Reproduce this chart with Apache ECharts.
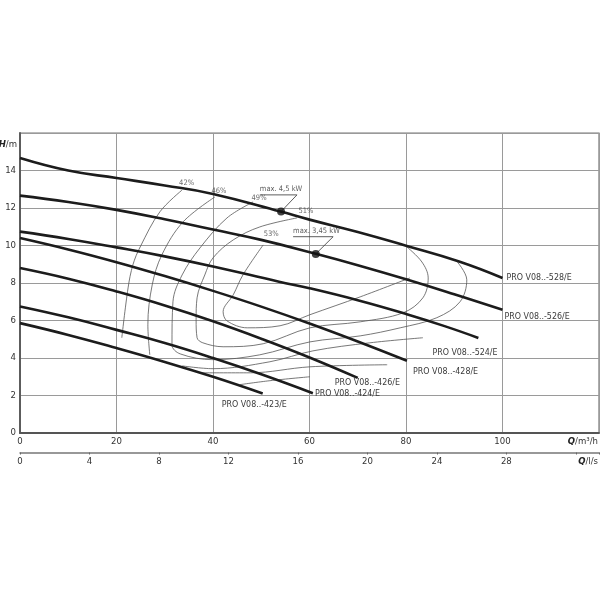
<!DOCTYPE html>
<html>
<head>
<meta charset="utf-8">
<script src="https://cdn.jsdelivr.net/npm/echarts@6/dist/echarts.min.js"></script>
<style>html,body{margin:0;padding:0;background:#fff}#c{width:600px;height:600px}</style>
</head>
<body>
<div id="c"></div>
<script>
// ---- tick labels ----
const qTicksM3h = [0, 20, 40, 60, 80, 100];
const qTicksLs = [0, 4, 8, 12, 16, 20, 24, 28];
const hTicks = [0, 2, 4, 6, 8, 10, 12, 14];

// ---- pump curves [Q m3/h, H m] ----
const pumpNames = ['PRO V08..-528/E', 'PRO V08..-526/E', 'PRO V08..-524/E', 'PRO V08..-428/E', 'PRO V08..-426/E', 'PRO V08..-424/E', 'PRO V08..-423/E'];
const pump528 = [[0,14.67],[10,14.0],[20,13.6],[30,13.2],[40,12.75],[54,11.81],[60,11.38],[70,10.72],[80,9.99],[91,9.15],[100,8.27]];
const pump526 = [[0,12.66],[10,12.32],[20,11.9],[30,11.4],[40,10.85],[50,10.3],[61.3,9.56],[70,8.95],[80,8.2],[90,7.4],[100,6.57]];
const pump524 = [[0,10.74],[10,10.35],[20,9.9],[30,9.42],[40,8.88],[53.7,8.07],[60,7.72],[70,7.08],[80,6.35],[88,5.7],[95,5.07]];
const pump428 = [[0,10.4],[10,9.79],[20,9.11],[30,8.37],[40,7.58],[50,6.74],[60,5.84],[70,4.88],[80.2,3.85]];
const pump426 = [[0,8.8],[10,8.23],[20,7.55],[30,6.8],[40,5.96],[50,5.03],[60,4.03],[70,2.94]];
const pump424 = [[0,6.75],[10,6.17],[20,5.5],[30,4.8],[40,4.0],[50,3.13],[60.7,2.12]];
const pump423 = [[0,5.86],[10,5.23],[20,4.53],[30,3.79],[40,3.0],[50.3,2.11]];

// ---- iso-efficiency lines ----
const effNames = ['42%', '46%', '49%', '51%', '53%'];
const eff42 = [[33.6,12.96],[29.0,11.8],[24.9,9.92],[23.4,8.97],[22.4,7.74],[21.1,5.08]];
const eff46 = [[40.4,12.59],[33.8,11.26],[29.4,9.5],[27.4,7.9],[26.5,5.77],[26.9,4.17]];
const eff49 = [[48.3,12.32],[42.9,11.47],[37.3,9.87],[33.6,8.43],[31.7,7.0],[31.5,4.7],[33.2,4.22],[40.0,3.91],[49.7,4.17],[60.1,4.86],[70.5,5.18],[78.8,5.61],[86.4,6.15],[91.2,7.0],[92.6,8.17],[90.4,9.2]];
const eff51 = [[57.4,11.47],[49.7,10.99],[44.2,10.3],[40.0,9.34],[38.3,8.43],[36.7,7.21],[36.5,6.04],[36.7,5.08],[37.9,4.81],[42.1,4.6],[50.4,4.76],[60.1,5.61],[70.5,5.93],[79.4,6.41],[83.5,7.21],[84.6,8.27],[83.3,9.12],[80.2,9.92]];
const eff53 = [[50.4,10.03],[46.2,8.43],[44.2,7.37],[42.1,6.47],[42.9,5.98],[47.1,5.61],[53.9,5.72],[60.1,6.31],[70.5,7.26],[80.8,8.27]];
const effExtraA = [[33.6,3.58],[40.0,3.43],[51.8,3.8],[60.7,4.38],[72.5,4.81],[83.5,5.08]];
const effExtraB = [[37.7,3.21],[47.7,3.21],[60.1,3.53],[76.1,3.64]];
const effExtraC = [[45.6,2.58],[51.8,2.79],[60.1,3.0]];

// ---- max power callouts ----
const maxTexts = ['max. 4,5 kW', 'max. 3,45 kW'];
const maxPoints = [[54.1,11.81],[61.3,9.55]];
const callout45 = [[54.1,11.81],[57.4,12.7],[49.7,12.7]];
const callout345 = [[61.3,9.55],[64.9,10.47],[56.6,10.47]];

const FONT = "'Liberation Sans Narrow','DejaVu Sans Condensed','Liberation Sans',sans-serif";
const chart = echarts.init(document.getElementById('c'));

const series = [];
const pumpCurves = [pump528, pump526, pump524, pump428, pump426, pump424, pump423];
const endOffsets = [[4,0],[2,6.5],[-46,15],[6,11],[-23,5],[2,0],[-41,11.5]];
pumpCurves.forEach((d, i) => {
  series.push({
    type: 'line', name: pumpNames[i], data: d, smooth: 0.45, symbol: 'none', z: 5, silent: true,
    lineStyle: { color: '#1c1c1c', width: 2.6 },
    endLabel: { show: true, formatter: pumpNames[i], color: '#3a3a3a', fontSize: 8.8, fontFamily: FONT,
      align: 'left', verticalAlign: 'middle', distance: 0, offset: endOffsets[i] }
  });
});

const effLines = [eff42, eff46, eff49, eff51, eff53];
const effLabelOffsets = [[4.5,0],[4,0.5],[6,3],[9,0],[8,-4]];
effLines.forEach((d) => {
  series.push({ type: 'line', data: d, smooth: 0.35, symbol: 'none', z: 3, silent: true,
    lineStyle: { color: '#555', width: 0.8 } });
});
const HIDDEN = { color: 'rgba(0,0,0,0)', borderWidth: 0 };
// percentage labels at the start of each efficiency line
series.push({ type: 'scatter', z: 7, silent: true, symbolSize: 1, itemStyle: HIDDEN,
  data: effLines.map((d, i) => ({ value: d[0], label: { show: true, formatter: effNames[i], position: 'top', distance: 2, offset: effLabelOffsets[i], fontSize: 7.5, color: '#444', fontFamily: FONT } })) });

[effExtraA, effExtraB, effExtraC].forEach(d => {
  series.push({ type: 'line', data: d, smooth: 0.35, symbol: 'none', z: 3, silent: true,
    lineStyle: { color: '#555', width: 0.8 } });
});

const callouts = [callout45, callout345];
callouts.forEach((d) => {
  series.push({ type: 'line', data: d, smooth: false, symbol: 'none', z: 4, silent: true,
    lineStyle: { color: '#333', width: 0.8 } });
});
series.push({ type: 'scatter', z: 7, silent: true, symbolSize: 1, itemStyle: HIDDEN,
  data: callouts.map((d, i) => ({ value: d[2], label: { show: true, formatter: maxTexts[i], position: 'top', align: 'left', distance: 1, fontSize: 7.5, color: '#333', fontFamily: FONT } })) });
series.push({ type: 'scatter', data: maxPoints, symbolSize: 8, z: 6, silent: true, itemStyle: { color: '#111' } });

const nameStyle = { color: '#333', fontSize: 9.5, fontFamily: FONT, rich: { b: { fontWeight: 'bold', fontStyle: 'italic', fontSize: 9.5, fontFamily: FONT, color: '#222' } } };

chart.setOption({
  animation: false,
  grid: { left: 20, right: 1, top: 133, bottom: 167, show: true, borderColor: '#777', borderWidth: 1.2, containLabel: false, outerBoundsMode: 'none' },
  xAxis: [
    { type: 'value', min: 0, max: 120, interval: 20, position: 'bottom',
      name: '{b|Q}/m³/h', nameLocation: 'end', nameGap: -1,
      nameTextStyle: Object.assign({ align: 'right', verticalAlign: 'top', padding: [4,0,0,0] }, nameStyle),
      axisLine: { show: true, lineStyle: { color: '#555', width: 1.8 } },
      axisTick: { show: false },
      axisLabel: { margin: 4, color: '#333', fontSize: 9.5, fontFamily: FONT, formatter: v => qTicksM3h.includes(v) ? String(v) : '' },
      splitLine: { show: true, lineStyle: { color: '#9a9a9a', width: 1 } } },
    { type: 'value', min: 0, max: 120 / 3.6, interval: 4, position: 'bottom', offset: 19.5,
      name: '{b|Q}/l/s', nameLocation: 'end', nameGap: -1,
      nameTextStyle: Object.assign({ align: 'right', verticalAlign: 'top', padding: [4,0,0,0] }, nameStyle),
      axisLine: { show: true, lineStyle: { color: '#777', width: 1.5 } },
      axisTick: { show: true, length: 2, lineStyle: { color: '#666', width: 1 } },
      axisLabel: { margin: 4, color: '#333', fontSize: 9.5, fontFamily: FONT, formatter: v => qTicksLs.includes(v) ? String(v) : '' },
      splitLine: { show: false } }
  ],
  yAxis: { type: 'value', min: 0, max: 16, interval: 2,
    name: '{b|H}/m', nameLocation: 'end', nameGap: -12,
    nameTextStyle: Object.assign({ align: 'right', verticalAlign: 'middle', padding: [0,3,0,0] }, nameStyle),
    axisLine: { show: true, lineStyle: { color: '#555', width: 1.8 } },
    axisTick: { show: false },
    axisLabel: { margin: 4, color: '#333', fontSize: 9.5, fontFamily: FONT, formatter: v => hTicks.includes(v) ? String(v) : '' },
    splitLine: { show: true, lineStyle: { color: '#9a9a9a', width: 1 } } },
  series: series
});
</script>
</body>
</html>
